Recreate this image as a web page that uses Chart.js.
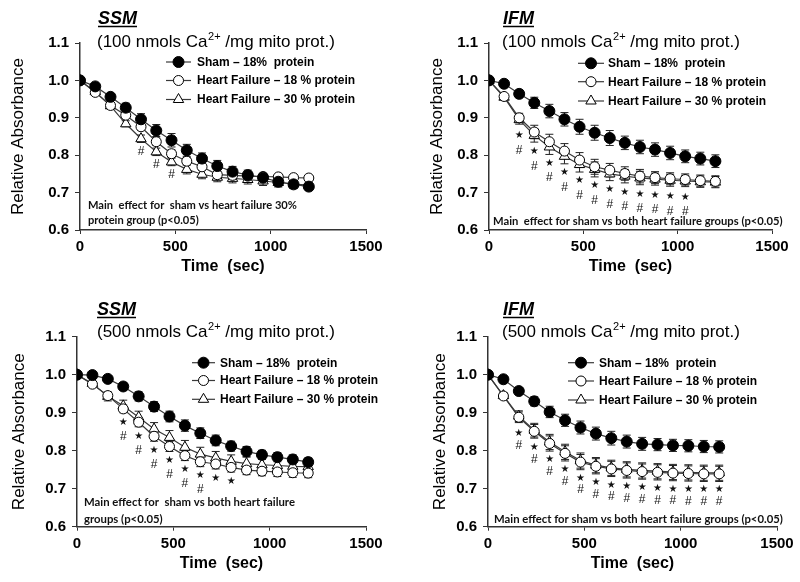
<!DOCTYPE html>
<html><head><meta charset="utf-8">
<script src="https://cdn.jsdelivr.net/npm/chart.js@4.4.1/dist/chart.umd.min.js"></script>
<style>
html,body{margin:0;padding:0;background:#fff;}
#wrap{position:relative;width:800px;height:582px;overflow:hidden;background:#fff;}
canvas{position:absolute;}
</style></head><body>
<div id="wrap">
<canvas id="c1" width="400" height="291" style="left:0;top:0"></canvas>
<canvas id="c2" width="400" height="291" style="left:400px;top:0"></canvas>
<canvas id="c3" width="400" height="291" style="left:0;top:291px"></canvas>
<canvas id="c4" width="400" height="291" style="left:400px;top:291px"></canvas>
</div>
<script>
// ---------- DATA ----------
const time = [0, 80, 160, 240, 320, 400, 480, 560, 640, 720, 800, 880, 960, 1040, 1120, 1200];
const xTicks = [0, 500, 1000, 1500];
const yTicks = [0.6, 0.7, 0.8, 0.9, 1.0, 1.1];
const seriesNames = ['Sham \u2013 18%  protein', 'Heart Failure \u2013 18 % protein', 'Heart Failure \u2013 30 % protein'];

// SSM, 100 nmols
const ssm100Sham = [1.0, 0.984, 0.956, 0.927, 0.896, 0.866, 0.840, 0.813, 0.791, 0.771, 0.756, 0.747, 0.740, 0.729, 0.722, 0.716];
const ssm100HF18 = [1.0, 0.968, 0.933, 0.907, 0.876, 0.836, 0.804, 0.784, 0.769, 0.748, 0.746, 0.744, 0.743, 0.742, 0.740, 0.739];
const ssm100HF30 = [1.0, 0.970, 0.932, 0.884, 0.844, 0.809, 0.782, 0.762, 0.749, 0.741, 0.738, 0.735, 0.731, 0.727, 0.723, 0.720];
const ssm100ShamErr = [0, 0.005, 0.008, 0.012, 0.015, 0.016, 0.018, 0.016, 0.015, 0.015, 0.014, 0.013, 0.012, 0.012, 0.011, 0.010];
const ssm100HF18Err = [0, 0.005, 0.006, 0.008, 0.010, 0.010, 0.010, 0.010, 0.010, 0.009, 0.008, 0.008, 0.007, 0.007, 0.007, 0.007];
const ssm100HF30Err = [0, 0.004, 0.006, 0.008, 0.010, 0.010, 0.010, 0.012, 0.012, 0.012, 0.012, 0.012, 0.012, 0.012, 0.012, 0.012];
const ssm100StarTimes = [];
const ssm100HashTimes = [320, 400, 480];

// IFM, 100 nmols
const ifm100Sham = [1.0, 0.991, 0.964, 0.940, 0.918, 0.896, 0.876, 0.860, 0.846, 0.833, 0.822, 0.815, 0.806, 0.797, 0.791, 0.784];
const ifm100HF18 = [1.0, 0.957, 0.900, 0.862, 0.836, 0.811, 0.787, 0.769, 0.760, 0.751, 0.744, 0.740, 0.737, 0.735, 0.732, 0.730];
const ifm100HF30 = [1.0, 0.955, 0.895, 0.853, 0.822, 0.797, 0.775, 0.762, 0.750, 0.744, 0.739, 0.736, 0.733, 0.731, 0.729, 0.728];
const ifm100ShamErr = [0, 0.005, 0.010, 0.015, 0.018, 0.018, 0.020, 0.020, 0.020, 0.018, 0.018, 0.018, 0.018, 0.017, 0.017, 0.017];
const ifm100HF18Err = [0, 0.006, 0.012, 0.018, 0.020, 0.020, 0.020, 0.020, 0.018, 0.018, 0.018, 0.016, 0.016, 0.015, 0.015, 0.015];
const ifm100HF30Err = [0, 0.006, 0.012, 0.018, 0.020, 0.020, 0.020, 0.020, 0.018, 0.018, 0.018, 0.016, 0.016, 0.015, 0.015, 0.015];
const ifm100StarTimes = [160, 240, 320, 400, 480, 560, 640, 720, 800, 880, 960, 1040];
const ifm100HashTimes = [160, 240, 320, 400, 480, 560, 640, 720, 800, 880, 960, 1040];

// SSM, 500 nmols
const ssm500Sham = [1.0, 0.999, 0.989, 0.969, 0.943, 0.916, 0.890, 0.866, 0.846, 0.827, 0.812, 0.798, 0.789, 0.783, 0.777, 0.770];
const ssm500HF18 = [1.0, 0.975, 0.945, 0.910, 0.875, 0.838, 0.811, 0.787, 0.771, 0.765, 0.756, 0.749, 0.746, 0.744, 0.742, 0.741];
const ssm500HF30 = [1.0, 0.977, 0.943, 0.918, 0.888, 0.857, 0.835, 0.809, 0.791, 0.781, 0.772, 0.766, 0.763, 0.761, 0.759, 0.758];
const ssm500ShamErr = [0, 0.004, 0.006, 0.010, 0.012, 0.013, 0.014, 0.015, 0.014, 0.014, 0.013, 0.013, 0.012, 0.012, 0.012, 0.011];
const ssm500HF18Err = [0, 0.006, 0.008, 0.010, 0.012, 0.013, 0.013, 0.013, 0.013, 0.013, 0.012, 0.012, 0.012, 0.012, 0.012, 0.012];
const ssm500HF30Err = [0, 0.006, 0.012, 0.015, 0.016, 0.017, 0.018, 0.018, 0.018, 0.017, 0.017, 0.017, 0.016, 0.016, 0.016, 0.016];
const ssm500StarTimes = [240, 320, 400, 480, 560, 640, 720, 800];
const ssm500HashTimes = [240, 320, 400, 480, 560, 640];

// IFM, 500 nmols
const ifm500Sham = [1.0, 0.988, 0.957, 0.930, 0.902, 0.880, 0.861, 0.845, 0.833, 0.824, 0.818, 0.816, 0.814, 0.813, 0.811, 0.810];
const ifm500HF18 = [1.0, 0.944, 0.888, 0.851, 0.819, 0.793, 0.770, 0.759, 0.752, 0.748, 0.745, 0.743, 0.741, 0.740, 0.739, 0.739];
const ifm500HF30 = [1.0, 0.945, 0.891, 0.854, 0.823, 0.797, 0.774, 0.762, 0.755, 0.751, 0.748, 0.746, 0.744, 0.743, 0.742, 0.742];
const ifm500ShamErr = [0, 0.005, 0.008, 0.012, 0.015, 0.016, 0.017, 0.017, 0.018, 0.017, 0.017, 0.016, 0.016, 0.016, 0.016, 0.016];
const ifm500HF18Err = [0, 0.008, 0.014, 0.018, 0.020, 0.020, 0.020, 0.020, 0.020, 0.020, 0.020, 0.020, 0.020, 0.020, 0.020, 0.020];
const ifm500HF30Err = [0, 0.008, 0.014, 0.018, 0.020, 0.020, 0.020, 0.020, 0.020, 0.020, 0.020, 0.020, 0.020, 0.020, 0.020, 0.020];
const ifm500StarTimes = [160, 240, 320, 400, 480, 560, 640, 720, 800, 880, 960, 1040, 1120, 1200];
const ifm500HashTimes = [160, 240, 320, 400, 480, 560, 640, 720, 800, 880, 960, 1040, 1120, 1200];

// ---------- STYLE / LAYOUT ----------
const FONT = '"Liberation Sans", Arial, Helvetica, sans-serif';
const NOTE_FONT = 'Lato, "Open Sans", sans-serif';
const LINE_COLOR = '#3a3a3a';
const markerStyles = [
  {style: 'circle', r: 5.5, fill: '#000'},
  {style: 'circle', r: 5, fill: '#fff'},
  {style: 'triangle', r: 6, fill: '#fff'}
];

function drawMarker(ctx, m, x, y) {
  ctx.save();
  ctx.lineWidth = 1;
  ctx.strokeStyle = '#000';
  ctx.fillStyle = m.fill;
  ctx.beginPath();
  if (m.style === 'circle') {
    ctx.arc(x, y, m.r, 0, Math.PI * 2);
  } else {
    const r = m.r;
    ctx.moveTo(x, y - r);
    ctx.lineTo(x + r * 0.866, y + r * 0.5);
    ctx.lineTo(x - r * 0.866, y + r * 0.5);
    ctx.closePath();
  }
  ctx.fill();
  ctx.stroke();
  ctx.restore();
}

function makeDecor(P) {
  return {
    id: 'decor',
    beforeDatasetsDraw(chart) {
      const ctx = chart.ctx, xs = chart.scales.x, ys = chart.scales.y;
      ctx.save();
      ctx.strokeStyle = '#222';
      ctx.lineWidth = 1;
      P.series.forEach(s => {
        s.vals.forEach((v, i) => {
          const e = s.err[i];
          if (!e) return;
          const x = xs.getPixelForValue(time[i]);
          const y1 = ys.getPixelForValue(v + e), y2 = ys.getPixelForValue(v - e);
          ctx.beginPath();
          ctx.moveTo(x, y1); ctx.lineTo(x, y2);
          ctx.moveTo(x - 4, y1); ctx.lineTo(x + 4, y1);
          ctx.moveTo(x - 4, y2); ctx.lineTo(x + 4, y2);
          ctx.stroke();
        });
      });
      ctx.restore();
    },
    afterDatasetsDraw(chart) {
      const ctx = chart.ctx, xs = chart.scales.x, ys = chart.scales.y;
      ctx.save();
      ctx.fillStyle = '#111';
      ctx.textAlign = 'center';
      ctx.textBaseline = 'middle';
      const lowPix = t => {
        const i = time.indexOf(t);
        const lo = Math.min(...P.series.map(s => s.vals[i]));
        return ys.getPixelForValue(lo);
      };
      ctx.font = '10px "DejaVu Sans", sans-serif';
      P.stars.forEach(t => ctx.fillText('\u2605', xs.getPixelForValue(t), lowPix(t) + P.starOff));
      ctx.font = '12px ' + FONT;
      P.hashes.forEach(t => ctx.fillText('#', xs.getPixelForValue(t), lowPix(t) + P.hashOff));
      ctx.restore();
    },
    afterDraw(chart) {
      const ctx = chart.ctx;
      ctx.save();
      ctx.fillStyle = '#000';
      ctx.textBaseline = 'alphabetic';
      ctx.textAlign = 'left';
      // title
      ctx.font = 'italic bold 18px ' + FONT;
      ctx.fillText(P.title, P.titleX, P.titleY);
      const tw = ctx.measureText(P.title).width;
      ctx.strokeStyle = '#000'; ctx.lineWidth = 1.5;
      ctx.beginPath(); ctx.moveTo(P.titleX, P.titleY + 2.5); ctx.lineTo(P.titleX + tw, P.titleY + 2.5); ctx.stroke();
      // subtitle with superscript
      let x = P.subX;
      ctx.font = '17px ' + FONT;
      ctx.fillText(P.sub[0], x, P.subY); x += ctx.measureText(P.sub[0]).width;
      ctx.font = '11px ' + FONT;
      ctx.fillText(P.sub[1], x + 0.5, P.subY - 7); x += ctx.measureText(P.sub[1]).width + 0.5;
      ctx.font = '17px ' + FONT;
      ctx.fillText(P.sub[2], x, P.subY);
      // legend
      ctx.textBaseline = 'middle';
      ctx.font = 'bold 12px ' + FONT;
      seriesNames.forEach((name, k) => {
        const y = P.legRows[k];
        ctx.strokeStyle = LINE_COLOR; ctx.lineWidth = 1.2;
        ctx.beginPath(); ctx.moveTo(P.legX0, y); ctx.lineTo(P.legX1, y); ctx.stroke();
        drawMarker(ctx, markerStyles[k], (P.legX0 + P.legX1) / 2, y);
        ctx.fillStyle = '#000';
        ctx.fillText(name, P.legTX, y + 0.5);
      });
      // note
      ctx.font = 'bold 11px ' + NOTE_FONT;
      const w11 = ctx.measureText(P.note[0]).width;
      const fs = 11 * P.noteW / w11;
      ctx.font = 'bold ' + fs.toFixed(2) + 'px ' + NOTE_FONT;
      ctx.fillStyle = '#111';
      P.note.forEach((line, k) => ctx.fillText(line, P.noteX, P.noteY[k]));
      ctx.restore();
    }
  };
}

function makePanel(id, P) {
  const ctx = document.getElementById(id).getContext('2d');
  const datasets = P.series.map((s, k) => ({
    data: time.map((t, i) => ({x: t, y: s.vals[i]})),
    borderColor: LINE_COLOR,
    borderWidth: 1.2,
    pointStyle: markerStyles[k].style,
    pointRadius: markerStyles[k].r,
    pointBackgroundColor: markerStyles[k].fill,
    pointBorderColor: '#000',
    pointBorderWidth: 1,
    tension: 0,
    fill: false
  }));
  new Chart(ctx, {
    type: 'line',
    data: {datasets},
    options: {
      responsive: false,
      animation: false,
      events: [],
      layout: {padding: {left: 0, right: P.padRight, top: P.padTop, bottom: 0}},
      plugins: {legend: {display: false}, tooltip: {enabled: false}, title: {display: false}},
      scales: {
        x: {
          type: 'linear', min: 0, max: 1500,
          afterBuildTicks: s => { s.ticks = xTicks.map(v => ({value: v})); },
          ticks: {color: '#000', font: {family: FONT, size: 15, weight: 'bold'}, padding: 4, maxRotation: 0, autoSkip: false, callback: v => String(v)},
          grid: {display: true, drawOnChartArea: false, drawTicks: true, tickLength: 4, color: '#333', lineWidth: 1},
          border: {display: true, color: '#333', width: 1.5},
          title: {display: true, text: 'Time  (sec)', color: '#000', font: {family: FONT, size: 16, weight: 'bold'}, padding: {top: 0, bottom: P.xTitlePad}},
          afterFit: s => { s.height = P.xH; }
        },
        y: {
          type: 'linear', min: 0.6, max: 1.1,
          afterBuildTicks: s => { s.ticks = yTicks.map(v => ({value: v})); },
          ticks: {color: '#000', font: {family: FONT, size: 15, weight: 'bold'}, padding: 6, callback: v => v.toFixed(1)},
          grid: {display: true, drawOnChartArea: false, drawTicks: true, tickLength: 5, color: '#333', lineWidth: 1},
          border: {display: true, color: '#333', width: 1.5},
          title: {display: true, text: 'Relative Absorbance', color: '#000', font: {family: FONT, size: 17}, padding: {top: P.yTitlePad, bottom: 0}},
          afterFit: s => { s.width = P.yW; }
        }
      }
    },
    plugins: [makeDecor(P)]
  });
}

makePanel('c1', {
  series: [{vals: ssm100Sham, err: ssm100ShamErr}, {vals: ssm100HF18, err: ssm100HF18Err}, {vals: ssm100HF30, err: ssm100HF30Err}],
  stars: ssm100StarTimes, hashes: ssm100HashTimes, starOff: 0, hashOff: 13,
  title: 'SSM', titleX: 98, titleY: 24,
  sub: ['(100 nmols Ca', '2+', ' /mg mito prot.)'], subX: 97, subY: 46.5,
  legX0: 166, legX1: 191, legTX: 197, legRows: [62, 80.5, 99.5],
  note: ['Main  effect for  sham vs heart failure 30%', 'protein group (p<0.05)'], noteX: 88, noteY: [205, 220.7], noteW: 209,
  yW: 80, xH: 61, padTop: 43, padRight: 34, xTitlePad: 14.4, yTitlePad: 8.5
});
makePanel('c2', {
  series: [{vals: ifm100Sham, err: ifm100ShamErr}, {vals: ifm100HF18, err: ifm100HF18Err}, {vals: ifm100HF30, err: ifm100HF30Err}],
  stars: ifm100StarTimes, hashes: ifm100HashTimes, starOff: 16, hashOff: 31,
  title: 'IFM', titleX: 103, titleY: 24,
  sub: ['(100 nmols Ca', '2+', ' /mg mito prot.)'], subX: 102, subY: 46.5,
  legX0: 178, legX1: 204, legTX: 208, legRows: [63.3, 81.7, 101],
  note: ['Main  effect for sham vs both heart failure groups (p<0.05)'], noteX: 93, noteY: [221.7], noteW: 290,
  yW: 89, xH: 61, padTop: 43, padRight: 28, xTitlePad: 14.4, yTitlePad: 27.5
});
makePanel('c3', {
  series: [{vals: ssm500Sham, err: ssm500ShamErr}, {vals: ssm500HF18, err: ssm500HF18Err}, {vals: ssm500HF30, err: ssm500HF30Err}],
  stars: ssm500StarTimes, hashes: ssm500HashTimes, starOff: 14, hashOff: 28,
  title: 'SSM', titleX: 97, titleY: 24,
  sub: ['(500 nmols Ca', '2+', ' /mg mito prot.)'], subX: 97, subY: 45.5,
  legX0: 192, legX1: 215, legTX: 220, legRows: [71.7, 89.5, 108.3],
  note: ['Main effect for  sham vs both heart failure', 'groups (p<0.05)'], noteX: 84, noteY: [211.7, 228], noteW: 211,
  yW: 77, xH: 55.3, padTop: 45.7, padRight: 34, xTitlePad: 8.4, yTitlePad: 9
});
makePanel('c4', {
  series: [{vals: ifm500Sham, err: ifm500ShamErr}, {vals: ifm500HF18, err: ifm500HF18Err}, {vals: ifm500HF30, err: ifm500HF30Err}],
  stars: ifm500StarTimes, hashes: ifm500HashTimes, starOff: 16, hashOff: 28,
  title: 'IFM', titleX: 103, titleY: 24,
  sub: ['(500 nmols Ca', '2+', ' /mg mito prot.)'], subX: 102, subY: 45.5,
  legX0: 168, legX1: 194, legTX: 199, legRows: [71.7, 90, 109],
  note: ['Main effect for sham vs both heart failure groups (p<0.05)'], noteX: 94, noteY: [228], noteW: 289,
  yW: 88, xH: 55.3, padTop: 45.7, padRight: 23, xTitlePad: 8.4, yTitlePad: 30
});
</script>
</body></html>
